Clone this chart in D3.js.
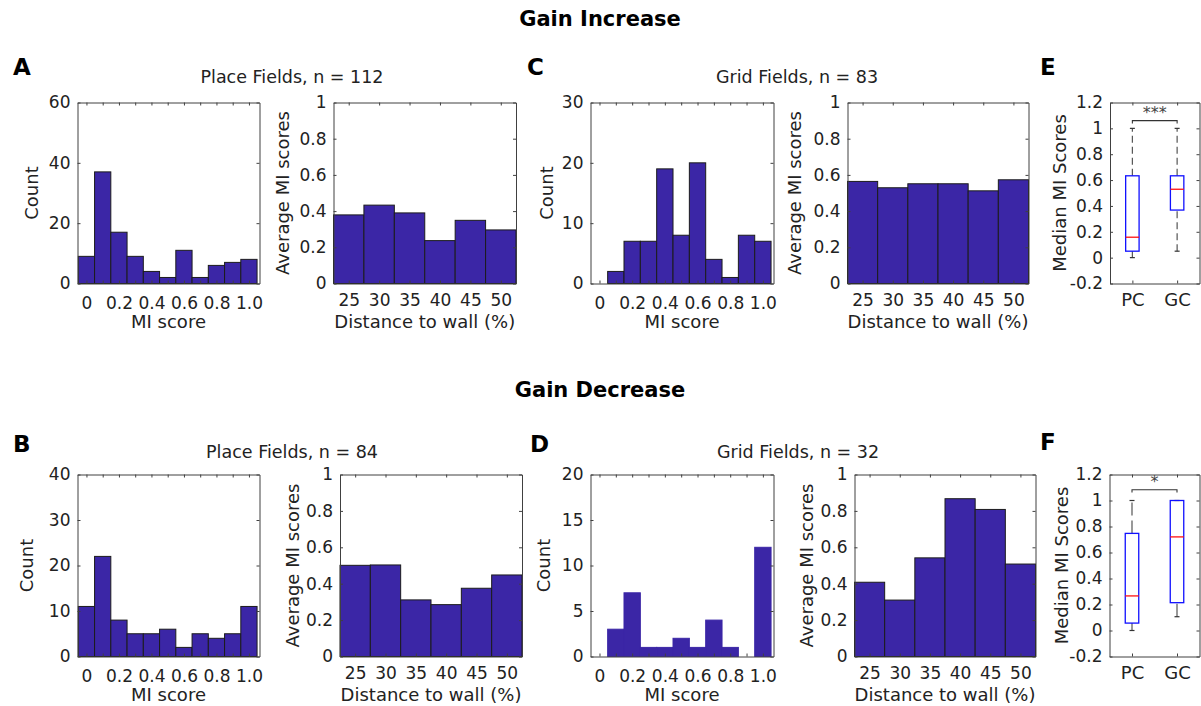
<!DOCTYPE html>
<html>
<head>
<meta charset="utf-8">
<script src="https://cdn.jsdelivr.net/npm/d3@7"></script>
<style>
  body { margin: 0; background: #fff; }
  svg { display: block; }
</style>
</head>
<body>
<svg id="fig" width="1201" height="706"></svg>
<script>
// ---- data -------------------------------------------------------------
// MI score histogram: bin centres (bin width 0.1) and axis labels
const miBinCentres = [0, 0.1, 0.2, 0.3, 0.4, 0.5, 0.6, 0.7, 0.8, 0.9, 1.0];
const miTickLabels = ["0", "0.2", "0.4", "0.6", "0.8", "1.0"];

// Counts per MI bin
const placeIncCounts = [9, 37, 17, 9, 4, 2, 11, 2, 6, 7, 8];    // n = 112
const gridIncCounts  = [0, 2, 7, 7, 19, 8, 20, 4, 1, 8, 7];     // n = 83
const placeDecCounts = [11, 22, 8, 5, 5, 6, 2, 5, 4, 5, 11];    // n = 84
const gridDecCounts  = [0, 3, 7, 1, 1, 2, 1, 4, 1, 0, 12];      // n = 32

// Distance to wall (%) categories and mean MI per category
const wallDistances  = [25, 30, 35, 40, 45, 50];
const placeIncWallMI = [0.379, 0.433, 0.390, 0.237, 0.349, 0.296];
const gridIncWallMI  = [0.564, 0.529, 0.551, 0.551, 0.512, 0.573];
const placeDecWallMI = [0.501, 0.503, 0.311, 0.285, 0.375, 0.448];
const gridDecWallMI  = [0.408, 0.310, 0.542, 0.867, 0.808, 0.508];

// Median MI score box plots (PC = place cells, GC = grid cells)
const boxGroups = ["PC", "GC"];
const incBoxStats = [
  { min: 0.00, q1: 0.050, median: 0.158, q3: 0.633, max: 1.00 },
  { min: 0.05, q1: 0.368, median: 0.529, q3: 0.633, max: 1.00 }
];
const decBoxStats = [
  { min: 0.000, q1: 0.057, median: 0.266, q3: 0.747, max: 1.00 },
  { min: 0.106, q1: 0.214, median: 0.720, q3: 1.000, max: 1.00 }
];
const incSignificance = "***";
const decSignificance = "*";

// ---- styling ------------------------------------------------------------
const FONT = "'DejaVu Sans', 'Liberation Sans', Arial, sans-serif";
const BAR_FILL = "#3b26a6";
const BAR_EDGE = "#1c1c1c";
const AXIS_COL = "#404040";
const TEXT_COL = "#222";

const svg = d3.select("#fig");

// ---- helpers ------------------------------------------------------------
function styleAxis(g, fs) {
  g.attr("font-family", FONT).attr("font-size", fs);
  g.selectAll("path.domain").attr("stroke", AXIS_COL);
  g.selectAll(".tick line").attr("stroke", AXIS_COL);
  g.selectAll(".tick text").attr("fill", TEXT_COL);
}

// Boxed axes: inward ticks on all four sides, labels bottom/left
function drawFrame(b, xs, ys, o) {
  svg.append("g").attr("transform", `translate(0,${b.y1})`)
    .call(d3.axisBottom(xs).tickValues(o.xTicks).tickFormat(o.xFmt)
      .tickSize(-3).tickSizeOuter(0).tickPadding(o.xPad))
    .call(styleAxis, o.xFs || 17);
  svg.append("g").attr("transform", `translate(0,${b.y0})`)
    .call(d3.axisTop(xs).tickValues(o.xTicks).tickFormat("")
      .tickSize(-3).tickSizeOuter(0))
    .call(styleAxis, 17);
  svg.append("g").attr("transform", `translate(${b.x0},0)`)
    .call(d3.axisLeft(ys).tickValues(o.yTicks).tickFormat(o.yFmt)
      .tickSize(-3).tickSizeOuter(0).tickPadding(7))
    .call(styleAxis, 17);
  svg.append("g").attr("transform", `translate(${b.x1},0)`)
    .call(d3.axisRight(ys).tickValues(o.yTicks).tickFormat("")
      .tickSize(-3).tickSizeOuter(0))
    .call(styleAxis, 17);
}

function text(x, y, str, o = {}) {
  return svg.append("text")
    .attr("x", x).attr("y", y)
    .attr("font-family", FONT)
    .attr("font-size", o.fs || 18)
    .attr("font-weight", o.bold ? "bold" : "normal")
    .attr("text-anchor", o.anchor || "middle")
    .attr("fill", o.fill || TEXT_COL)
    .text(str);
}

function yLabel(x, b, str) {
  svg.append("text")
    .attr("transform", `translate(${x},${(b.y0 + b.y1) / 2}) rotate(-90)`)
    .attr("font-family", FONT).attr("font-size", 18)
    .attr("text-anchor", "middle").attr("dominant-baseline", "central")
    .attr("fill", TEXT_COL)
    .text(str);
}

function histPanel(b, counts, yMax, yStep, edge, labelX) {
  const xs = d3.scaleLinear().domain([-0.055, 1.065]).range([b.x0, b.x1]);
  const ys = d3.scaleLinear().domain([0, yMax]).range([b.y1, b.y0]);
  svg.append("g").selectAll("rect")
    .data(miBinCentres.map((c, i) => ({ c, n: counts[i] })))
    .join("rect")
    .attr("x", d => xs(d.c - 0.05))
    .attr("width", d => xs(d.c + 0.05) - xs(d.c - 0.05))
    .attr("y", d => ys(d.n))
    .attr("height", d => ys(0) - ys(d.n))
    .attr("fill", BAR_FILL)
    .attr("stroke", edge)
    .attr("stroke-width", 1);
  drawFrame(b, xs, ys, {
    xTicks: miBinCentres,
    xFmt: (d, i) => (i % 2 === 0 ? miTickLabels[i / 2] : ""),
    xPad: 13,
    yTicks: d3.range(0, yMax + 1e-9, yStep),
    yFmt: d3.format("d")
  });
  yLabel(labelX, b, "Count");
  text((b.x0 + b.x1) / 2, b.y1 + 44, "MI score");
}

function wallPanel(b, values, labelX) {
  const xs = d3.scaleLinear().domain([22.5, 52.5]).range([b.x0, b.x1]);
  const ys = d3.scaleLinear().domain([0, 1]).range([b.y1, b.y0]);
  svg.append("g").selectAll("rect")
    .data(wallDistances.map((d, i) => ({ d, v: values[i] })))
    .join("rect")
    .attr("x", d => xs(d.d - 2.5))
    .attr("width", d => xs(d.d + 2.5) - xs(d.d - 2.5))
    .attr("y", d => ys(d.v))
    .attr("height", d => ys(0) - ys(d.v))
    .attr("fill", BAR_FILL)
    .attr("stroke", BAR_EDGE)
    .attr("stroke-width", 1);
  drawFrame(b, xs, ys, {
    xTicks: wallDistances,
    xFmt: d3.format("d"),
    xPad: 10,
    yTicks: [0, 0.2, 0.4, 0.6, 0.8, 1],
    yFmt: d => (d === 0 || d === 1 ? String(d) : d.toFixed(1))
  });
  yLabel(labelX, b, "Average MI scores");
  text((b.x0 + b.x1) / 2, b.y1 + 44, "Distance to wall (%)");
}

function boxPanel(b, stats, sig, sigY, dash, labelX) {
  const xs = d3.scaleLinear().domain([0.5, 2.5]).range([b.x0, b.x1]);
  const ys = d3.scaleLinear().domain([-0.2, 1.2]).range([b.y1, b.y0]);
  const halfW = (xs(1.15) - xs(0.85)) / 2;
  const g = svg.append("g");
  stats.forEach((s, i) => {
    const cx = xs(i + 1);
    // whiskers
    [[s.q3, s.max], [s.min, s.q1]].forEach(([a, c]) => {
      g.append("line").attr("x1", cx).attr("x2", cx)
        .attr("y1", ys(a)).attr("y2", ys(c))
        .attr("stroke", "#555").attr("stroke-width", 1.2)
        .attr("stroke-dasharray", dash);
    });
    [s.max, s.min].forEach(v => {
      g.append("line").attr("x1", cx - 2.5).attr("x2", cx + 2.5)
        .attr("y1", ys(v)).attr("y2", ys(v))
        .attr("stroke", "#333").attr("stroke-width", 1.2);
    });
    // box and median
    g.append("rect").attr("x", cx - halfW).attr("width", 2 * halfW)
      .attr("y", ys(s.q3)).attr("height", ys(s.q1) - ys(s.q3))
      .attr("fill", "none").attr("stroke", "#1010ff").attr("stroke-width", 1.3);
    g.append("line").attr("x1", cx - halfW).attr("x2", cx + halfW)
      .attr("y1", ys(s.median)).attr("y2", ys(s.median))
      .attr("stroke", "#ff1010").attr("stroke-width", 1.3);
  });
  // significance bracket
  g.append("path")
    .attr("d", `M${xs(1)},${ys(sigY - 0.022)}V${ys(sigY)}H${xs(2)}V${ys(sigY - 0.022)}`)
    .attr("fill", "none").attr("stroke", "#333").attr("stroke-width", 1.1);
  text((xs(1) + xs(2)) / 2, ys(sigY + 0.085) + 0.53 * 16, sig, { fs: 16, fill: "#444" });
  drawFrame(b, xs, ys, {
    xTicks: [1, 2],
    xFmt: (d, i) => boxGroups[i],
    xPad: 10,
    xFs: 18,
    yTicks: [-0.2, 0, 0.2, 0.4, 0.6, 0.8, 1, 1.2],
    yFmt: d => (Math.abs(d) < 1e-9 ? "0" : (Number.isInteger(d) ? String(d) : d.toFixed(1)))
  });
  yLabel(labelX, b, "Median MI Scores");
}

// ---- layout -------------------------------------------------------------
const R1 = { y0: 102.5, y1: 283.5 };
const R2 = { y0: 474.5, y1: 656.5 };
const box = (x0, x1, r) => ({ x0, x1, y0: r.y0, y1: r.y1 });

// Row headers
text(600, 26, "Gain Increase", { fs: 21, bold: true, fill: "#000" });
text(600, 397, "Gain Decrease", { fs: 21, bold: true, fill: "#000" });

// Panel letters
[["A", 13, 75], ["C", 527, 75], ["E", 1040, 75],
 ["B", 13, 452], ["D", 530, 452], ["F", 1040, 450]].forEach(([s, x, y]) =>
  text(x, y, s, { fs: 23, bold: true, anchor: "start", fill: "#000" }));

// Sub-titles
text(292, 83, "Place Fields, n = 112", { fs: 17.5 });
text(797, 83, "Grid Fields, n = 83", { fs: 17.5 });
text(292, 458, "Place Fields, n = 84", { fs: 17.5 });
text(798, 458, "Grid Fields, n = 32", { fs: 17.5 });

// Gain increase row
histPanel(box(77.5, 259.5, R1), placeIncCounts, 60, 20, BAR_EDGE, 31);
wallPanel(box(333.5, 516, R1), placeIncWallMI, 282);
histPanel(box(590.5, 773.5, R1), gridIncCounts, 30, 10, BAR_EDGE, 546);
wallPanel(box(847.5, 1028.5, R1), gridIncWallMI, 794);
boxPanel(box(1110, 1199.5, R1), incBoxStats, incSignificance, 1.06, "7,4", 1059);

// Gain decrease row
histPanel(box(77.5, 259.5, R2), placeDecCounts, 40, 10, BAR_EDGE, 26);
wallPanel(box(340, 522, R2), placeDecWallMI, 292);
histPanel(box(590.5, 773.5, R2), gridDecCounts, 20, 5, BAR_FILL, 543);
wallPanel(box(854.5, 1035.5, R2), gridDecWallMI, 806);
boxPanel(box(1109.5, 1199.5, R2), decBoxStats, decSignificance, 1.083, "13,5", 1061);
</script>
</body>
</html>
